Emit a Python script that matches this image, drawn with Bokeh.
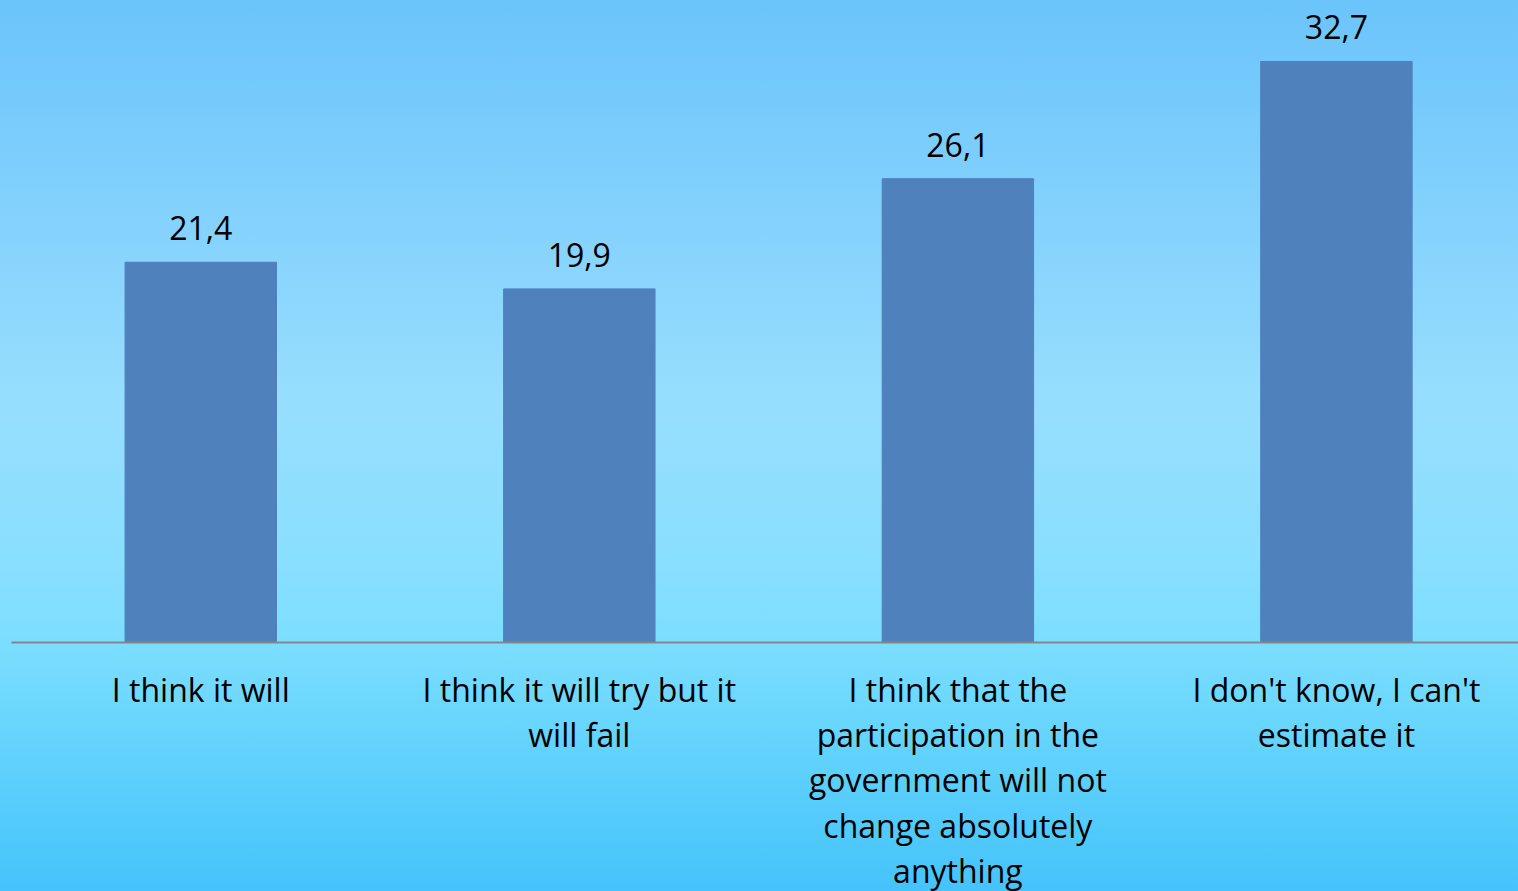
from bokeh.plotting import figure
from bokeh.models import Range1d, ColumnDataSource, FixedTicker
from bokeh.core.properties import value
from bokeh.embed import file_html
from bokeh.resources import INLINE

categories = [
    "I think it will",
    "I think it will try but it\nwill fail",
    "I think that the\nparticipation in the\ngovernment will not\nchange absolutely\nanything",
    "I don't know, I can't\nestimate it",
]
values = [21.4, 19.9, 26.1, 32.7]
value_labels = ["21,4", "19,9", "26,1", "32,7"]

GRADIENT = ("linear-gradient(180deg, #6BC4FA 0%, #84D2FD 25%, #97DEFE 45%, "
            "#8ADFFE 62%, #7CDEFF 72%, #60D2FC 85%, #45C3FA 100%)")

xs = list(range(len(categories)))

p = figure(frame_width=1507, frame_height=642, output_backend="svg",
           toolbar_location=None,
           x_range=Range1d(-0.5, 3.481), y_range=Range1d(0, 36.13),
           min_border_left=11, min_border_right=0, min_border_top=0,
           min_border_bottom=0)

p.background_fill_alpha = 0
p.border_fill_alpha = 0
p.outline_line_color = None
p.xgrid.grid_line_color = None
p.ygrid.grid_line_color = None
p.yaxis.visible = False

src = ColumnDataSource(dict(x=xs, top=values, lab=value_labels))
p.vbar(x="x", top="top", width=0.4, bottom=0, source=src,
       fill_color="#4F81BD", line_color="#4F81BD")
p.text(x="x", y="top", text="lab", source=src, text_align="center",
       text_baseline="alphabetic", y_offset=-34,
       text_font=value("Open Sans"), text_font_size="32px", text_color="#000000")

ax = p.xaxis[0]
ax.ticker = FixedTicker(ticks=xs)
ax.major_label_overrides = {i: c for i, c in enumerate(categories)}
ax.major_tick_line_color = None
ax.minor_tick_line_color = None
ax.major_tick_out = 0
ax.axis_line_color = "#868686"
ax.axis_line_width = 2
ax.major_label_text_font = "Open Sans"
ax.major_label_text_font_size = "32px"
ax.major_label_text_color = "#000000"
ax.major_label_text_line_height = 1.055
ax.major_label_standoff = 25

html = file_html(p, INLINE)
css = ("<style>html,body{margin:0;padding:0;overflow:hidden;height:100%;}"
       "body{background:" + GRADIENT + ";}</style>")
html = html.replace("<head>", "<head>" + css, 1)
open("out.html", "w").write(html)
